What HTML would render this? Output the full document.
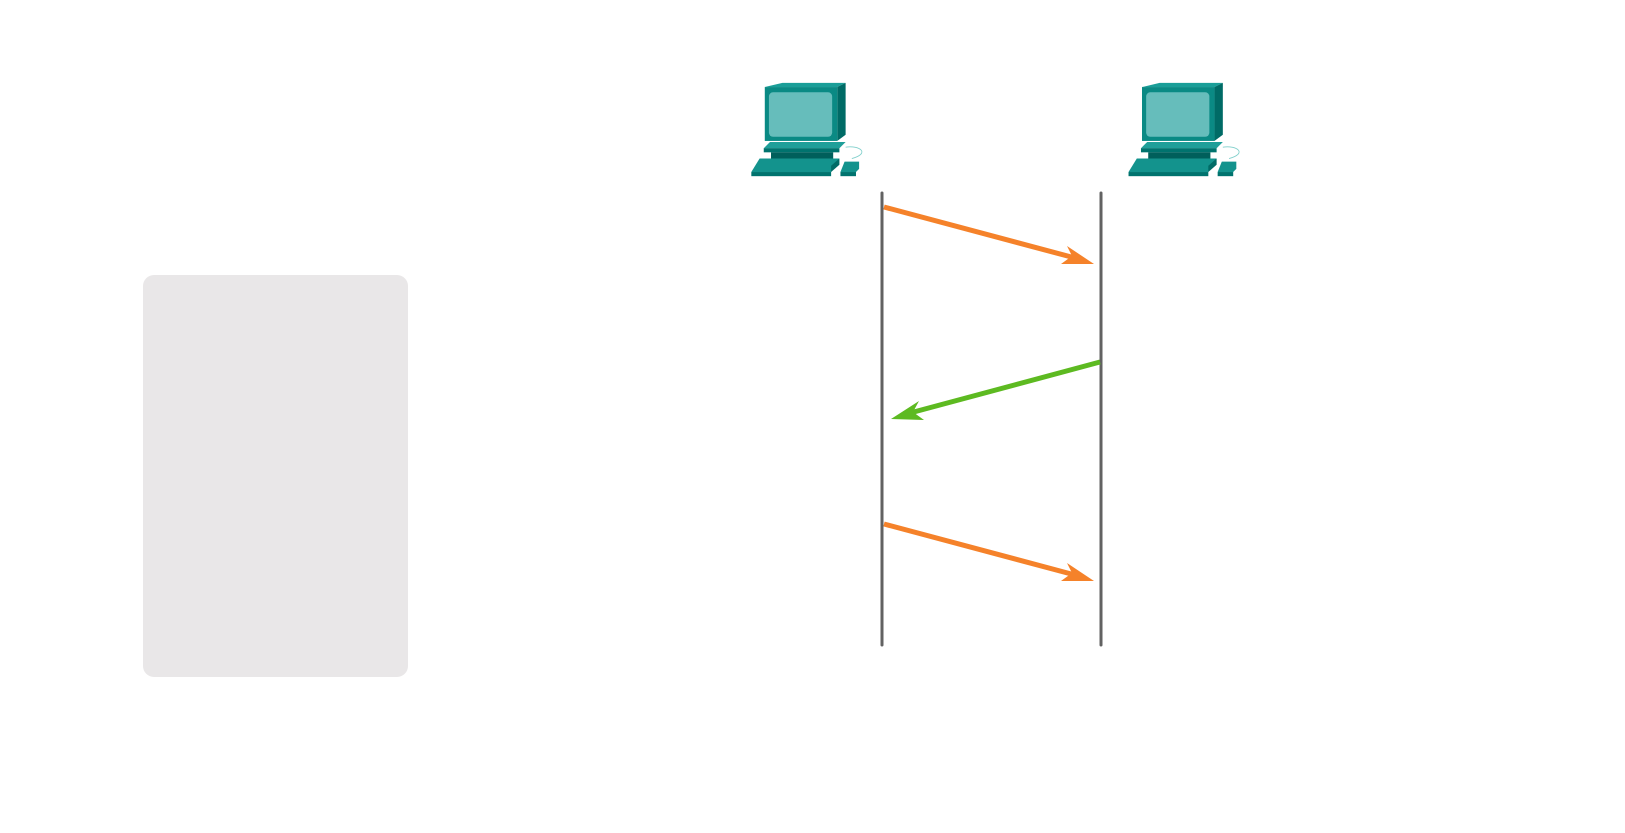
<!DOCTYPE html>
<html><head><meta charset="utf-8"><style>html,body{margin:0;padding:0;background:#fff;}svg{display:block}</style></head>
<body>
<svg width="1625" height="833" viewBox="0 0 1625 833" xmlns="http://www.w3.org/2000/svg">
<defs>
<g id="pc">
  <polygon points="738,84 755,80 816,80 808,84" fill="#1a9e98"/>
  <polygon points="808,84 816,80 816,130 808,136" fill="#006b66"/>
  <rect x="738" y="84" width="70" height="52" fill="#0a8a84"/>
  <rect x="742" y="89" width="61" height="43" rx="4" fill="#66bdbb"/>
  <polygon points="737,143 743,137 816,137 810,143" fill="#1f9f99"/>
  <rect x="737" y="143" width="73" height="4" fill="#00736e"/>
  <rect x="744" y="147" width="60" height="6" fill="#005f5b"/>
  <polygon points="725,166 733,153 810,153 802,166" fill="#13938d"/>
  <rect x="725" y="166" width="77" height="4" fill="#00736e"/>
  <polygon points="802,166 810,159 810,153 802,160" fill="#006b66"/>
  <polygon points="811,166 815,156 829,156 829,163 826,166" fill="#13938d"/>
  <rect x="811" y="166" width="15" height="4" fill="#00736e"/>
  <path d="M816,142 C830,140 840,148 822,153" stroke="#7fcfcb" stroke-width="0.8" fill="none"/>
</g>
</defs>
<g transform="scale(1.0363)">
<use href="#pc"/>
<use href="#pc" transform="translate(364,0)"/>
</g>
<rect x="143" y="275" width="265" height="402" rx="11" fill="#e9e7e8"/>
<line x1="882" y1="193" x2="882" y2="645" stroke="#626262" stroke-width="3" stroke-linecap="round"/>
<line x1="1101" y1="193" x2="1101" y2="645" stroke="#626262" stroke-width="3" stroke-linecap="round"/>
<g fill="#f5822a">
  <line x1="884" y1="207" x2="1075" y2="258" stroke="#f5822a" stroke-width="5"/>
  <polygon points="1094,264 1067,246 1072,256 1061,264"/>
  <line x1="884" y1="524" x2="1075" y2="575" stroke="#f5822a" stroke-width="5"/>
  <polygon points="1094,581 1067,563 1072,573 1061,581"/>
</g>
<g fill="#5dba21">
  <line x1="1100" y1="362" x2="910" y2="413" stroke="#5dba21" stroke-width="5"/>
  <polygon points="891,419 919,401 913,412 924,420"/>
</g>
</svg>
</body></html>
